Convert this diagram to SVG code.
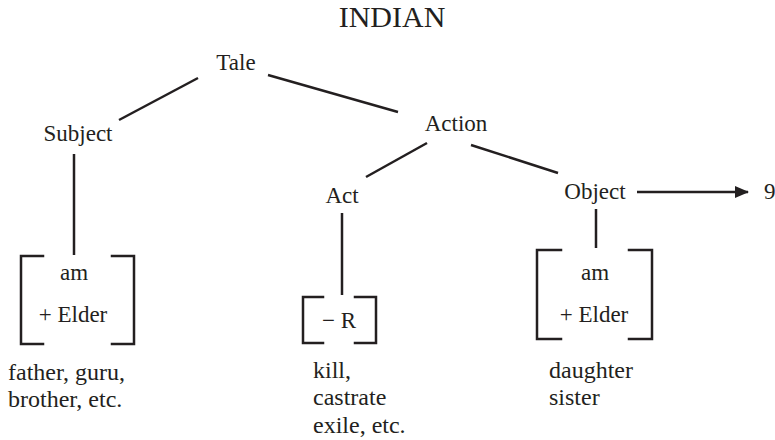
<svg xmlns="http://www.w3.org/2000/svg" width="775" height="440" viewBox="0 0 775 440">
  <style>
    text { font-family: "Liberation Serif", "Times New Roman", serif; fill: #231f20; font-size: 23px; }
    .title { font-size: 30px; }
    .ex { font-size: 24px; }
    .c { text-anchor: middle; }
    .edge { stroke: #231f20; stroke-width: 2.5; fill: none; }
    .br { stroke: #231f20; stroke-width: 2.5; fill: none; stroke-linecap: square; }
  </style>
  <defs>
    <marker id="arrow" markerWidth="14" markerHeight="12" refX="13" refY="6" orient="auto" markerUnits="userSpaceOnUse">
      <path d="M0,0 L14,6 L0,12 Z" fill="#231f20"/>
    </marker>
  </defs>
  <rect width="775" height="440" fill="#ffffff"/>

  <text class="title c" x="392" y="27">INDIAN</text>

  <g id="connectors">
    <line class="edge" x1="198" y1="78" x2="119" y2="120"/>
    <line class="edge" x1="268" y1="75" x2="398" y2="112"/>
    <line class="edge" x1="427" y1="143" x2="366" y2="177"/>
    <line class="edge" x1="471" y1="145" x2="558" y2="173"/>
    <line class="edge" x1="74" y1="154" x2="74" y2="255"/>
    <line class="edge" x1="342" y1="213" x2="342" y2="295"/>
    <line class="edge" x1="596" y1="209" x2="596" y2="248"/>
    <line class="edge" x1="637" y1="192" x2="748" y2="192" marker-end="url(#arrow)"/>
  </g>

  <g id="tale"><text class="c" x="236" y="70">Tale</text></g>
  <g id="subject"><text class="c" x="78" y="141">Subject</text></g>
  <g id="action"><text class="c" x="456" y="131">Action</text></g>
  <g id="act"><text class="c" x="342" y="203">Act</text></g>
  <g id="object"><text class="c" x="595" y="199">Object</text></g>
  <g id="nine"><text x="764" y="199">9</text></g>

  <g id="subject-features">
    <path class="br" d="M43,256 H21 V344 H43"/>
    <path class="br" d="M112,256 H134 V344 H112"/>
    <text class="c" x="74" y="280">am</text>
    <text class="c" x="73" y="322">+ Elder</text>
  </g>
  <g id="subject-examples">
    <text class="ex" x="8" y="380">father, guru,</text>
    <text class="ex" x="8" y="407">brother, etc.</text>
  </g>

  <g id="act-features">
    <path class="br" d="M323,297 H303 V343 H323"/>
    <path class="br" d="M355,297 H376 V343 H355"/>
    <text class="c" x="339" y="328">− R</text>
  </g>
  <g id="act-examples">
    <text class="ex" x="313" y="378">kill,</text>
    <text class="ex" x="313" y="405">castrate</text>
    <text class="ex" x="313" y="433">exile, etc.</text>
  </g>

  <g id="object-features">
    <path class="br" d="M561,250 H537 V339 H561"/>
    <path class="br" d="M629,250 H652 V339 H629"/>
    <text class="c" x="595" y="280">am</text>
    <text class="c" x="594" y="322">+ Elder</text>
  </g>
  <g id="object-examples">
    <text class="ex" x="549" y="378">daughter</text>
    <text class="ex" x="549" y="405">sister</text>
  </g>
</svg>
